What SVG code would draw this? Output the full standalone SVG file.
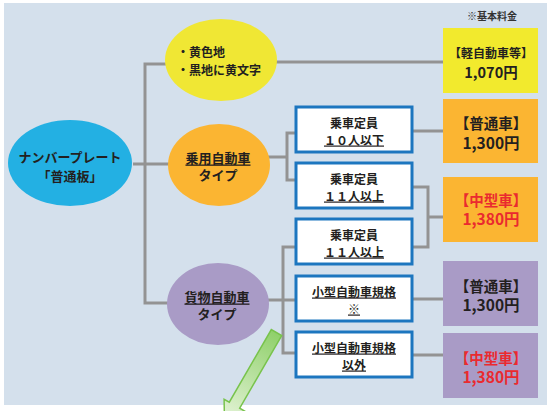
<svg xmlns="http://www.w3.org/2000/svg" width="550" height="411" viewBox="0 0 550 411">
<style>
text{font-family:"Noto Sans CJK JP","Liberation Sans",sans-serif;font-weight:bold;fill:#231f20;text-anchor:middle;dominant-baseline:central}
.c{fill:none;stroke:#939393;stroke-width:3}
.wb{fill:#fff;stroke:#1c76bf;stroke-width:3}
.t12{font-size:12px}
.t13{font-size:13px}
.big{font-size:15.5px}
.mid{font-size:14.5px}
.red{fill:#ea2a2f}
.u{text-decoration:underline}
</style>
<defs>
<linearGradient id="ag" x1="0" y1="0" x2="1" y2="0">
<stop offset="0" stop-color="#8fd06a"/>
<stop offset="1" stop-color="#e6f4da"/>
</linearGradient>
</defs>
<rect x="0" y="0" width="550" height="411" fill="#fff"/>
<rect x="4" y="3" width="543" height="402" fill="#d4e0ec"/>
<text x="492" y="15" style="font-size:10px;fill:#333">※基本料金</text>

<g id="connectors">
<polyline class="c" points="133,164 145,164"/>
<polyline class="c" points="170,64 145,64 145,303 170,303"/>
<polyline class="c" points="145,164 170,164"/>
<polyline class="c" points="276,62 443,62"/>
<polyline class="c" points="268,157 287,157"/>
<polyline class="c" points="296,133 287,133 287,180 296,180"/>
<polyline class="c" points="412,131 443,131"/>
<polyline class="c" points="412,187 428,187 428,247 412,247"/>
<polyline class="c" points="428,217 443,217"/>
<polyline class="c" points="267,300 296,300"/>
<polyline class="c" points="296,247 283,247 283,353 296,353"/>
<polyline class="c" points="412,299 443,299"/>
<polyline class="c" points="412,355 443,355"/>
</g>

<g id="plate">
<ellipse cx="70" cy="163" rx="62" ry="43" fill="#23b0e3"/>
<text class="t13" x="70" y="156">ナンバープレート</text>
<text class="t13" x="70" y="175">「普通板」</text>
</g>
<g id="yellow">
<ellipse cx="221" cy="60" rx="56" ry="41" fill="#f0e734"/>
<text class="t12" x="177" y="51" style="text-anchor:start">・黄色地</text>
<text class="t12" x="177" y="69" style="text-anchor:start">・黒地に黄文字</text>
</g>
<g id="passenger">
<ellipse cx="219" cy="165" rx="51" ry="41" fill="#fbb532"/>
<text class="t13 u" x="218" y="157">乗用自動車</text>
<text class="t13" x="218" y="174">タイプ</text>
</g>
<g id="cargo">
<ellipse cx="218" cy="304" rx="51" ry="41" fill="#a99bc6"/>
<text class="t13 u" x="217" y="296">貨物自動車</text>
<text class="t13" x="217" y="313">タイプ</text>
</g>

<g id="w1"><rect class="wb" x="296" y="107" width="116" height="45"/>
<text class="t12" x="354" y="122">乗車定員</text><text class="t12 u" x="354" y="139">１０人以下</text></g>
<g id="w2"><rect class="wb" x="296" y="163" width="116" height="45"/>
<text class="t12" x="354" y="178">乗車定員</text><text class="t12 u" x="354" y="195">１１人以上</text></g>
<g id="w3"><rect class="wb" x="296" y="219" width="116" height="45"/>
<text class="t12" x="354" y="234">乗車定員</text><text class="t12 u" x="354" y="251">１１人以上</text></g>
<g id="w4"><rect class="wb" x="296" y="276" width="116" height="45"/>
<text class="t12 u" x="354" y="291">小型自動車規格</text><text class="t12 u" x="354" y="308">※</text></g>
<g id="w5"><rect class="wb" x="296" y="332" width="116" height="45"/>
<text class="t12 u" x="354" y="347">小型自動車規格</text><text class="t12 u" x="354" y="364">以外</text></g>

<g id="p1"><rect x="443" y="28" width="95" height="65" fill="#f2ea2d"/>
<text class="t12" x="491" y="52">【軽自動車等】</text><text class="mid" x="491" y="71">1,070円</text></g>
<g id="p2"><rect x="443" y="99" width="95" height="64" fill="#fbb532"/>
<text class="mid" x="491" y="122">【普通車】</text><text class="big" x="491" y="142">1,300円</text></g>
<g id="p3"><rect x="443" y="177" width="95" height="65" fill="#fbb532"/>
<text class="mid red" x="491" y="199">【中型車】</text><text class="big red" x="491" y="218">1,380円</text></g>
<g id="p4"><rect x="443" y="261" width="95" height="65" fill="#a99bc6"/>
<text class="mid" x="491" y="285">【普通車】</text><text class="big" x="491" y="304">1,300円</text></g>
<g id="p5"><rect x="443" y="333" width="95" height="65" fill="#a99bc6"/>
<text class="mid red" x="491" y="357">【中型車】</text><text class="big red" x="491" y="376">1,380円</text></g>

<g id="arrow" transform="translate(276.5,332.5) rotate(120)">
<polygon points="0,-6 84,-6 84,-12 104,0 84,12 84,6 0,6" fill="url(#ag)" stroke="#78c34c" stroke-width="1.5" stroke-linejoin="miter"/>
</g>
</svg>
